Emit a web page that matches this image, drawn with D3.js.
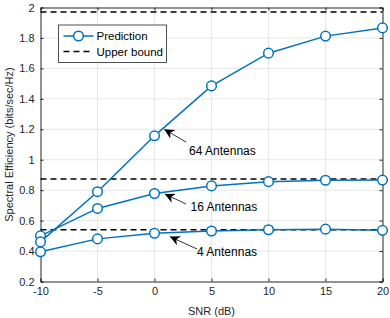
<!DOCTYPE html>
<html>
<head>
<meta charset="utf-8">
<script src="https://cdn.jsdelivr.net/npm/d3@7"></script>
<style>
  body { margin: 0; background: #fff; }
  text { font-family: "Liberation Sans", Arial, sans-serif; }
</style>
</head>
<body>
<svg id="chart" width="390" height="318"></svg>
<script>
// data
const snr = [-10, -5, 0, 5, 10, 15, 20];
const pred64 = [0.46, 0.79, 1.157, 1.485, 1.70, 1.812, 1.866];
const pred16 = [0.50, 0.68, 0.778, 0.828, 0.856, 0.865, 0.866];
const pred4 = [0.395, 0.48, 0.517, 0.532, 0.540, 0.544, 0.536];
const bounds = [1.97, 0.874, 0.540];
const xTicks = [-10, -5, 0, 5, 10, 15, 20];
const yTicks = [0.2, 0.4, 0.6, 0.8, 1, 1.2, 1.4, 1.6, 1.8, 2];
const notes = [
  { label: "64 Antennas", x: 0.85, y: 1.2, tx: 189, ty: 155, dx: -3, dy: -13 },
  { label: "16 Antennas", x: 0.9, y: 0.775, tx: 190.5, ty: 211, dx: -4.5, dy: -7 },
  { label: "4 Antennas", x: 1.35, y: 0.495, tx: 197, ty: 256, dx: 0, dy: -7 }
];

const blue = "#0072bd";
const svg = d3.select("#chart");
const m = { l: 40.5, r: 7.5, t: 7.5, b: 36.5 };
const W = 390, H = 318;

const x = d3.scaleLinear().domain([-10, 20]).range([m.l, W - m.r]);
const y = d3.scaleLinear().domain([0.2, 2]).range([H - m.b, m.t]);

// grid
svg.append("g").selectAll("line").data(xTicks.slice(1, -1)).join("line")
  .attr("x1", d => x(d)).attr("x2", d => x(d))
  .attr("y1", m.t).attr("y2", H - m.b)
  .attr("stroke", "#e6e6e6").attr("stroke-width", 1);
svg.append("g").selectAll("line").data(yTicks.slice(1, -1)).join("line")
  .attr("x1", m.l).attr("x2", W - m.r)
  .attr("y1", d => y(d)).attr("y2", d => y(d))
  .attr("stroke", "#e6e6e6").attr("stroke-width", 1);

// axes
const fmt = d => d3.format("")(+d.toFixed(1));
const xAxis = svg.append("g").attr("transform", `translate(0,${H - m.b})`)
  .call(d3.axisBottom(x).tickValues(xTicks).tickSize(-3).tickPadding(6).tickFormat(d => d));
const xTop = svg.append("g").attr("transform", `translate(0,${m.t})`)
  .call(d3.axisTop(x).tickValues(xTicks).tickSize(-3).tickFormat(""));
const yAxis = svg.append("g").attr("transform", `translate(${m.l},0)`)
  .call(d3.axisLeft(y).tickValues(yTicks).tickSize(-3).tickPadding(6).tickFormat(fmt));
const yRight = svg.append("g").attr("transform", `translate(${W - m.r},0)`)
  .call(d3.axisRight(y).tickValues(yTicks).tickSize(-3).tickFormat(""));

[xAxis, xTop, yAxis, yRight].forEach(g => {
  g.select(".domain").attr("stroke", "#262626");
  g.selectAll(".tick line").attr("stroke", "#262626");
  g.selectAll("text").attr("fill", "#262626").style("font-size", "11px")
    .style("font-family", "'Liberation Sans', Arial, sans-serif");
});

// upper bounds
svg.append("g").selectAll("line").data(bounds).join("line")
  .attr("x1", x(-10)).attr("x2", x(20))
  .attr("y1", d => y(d)).attr("y2", d => y(d))
  .attr("stroke", "#000").attr("stroke-width", 1.5)
  .attr("stroke-dasharray", "6,4");

// prediction curves
const line = d3.line().x((d, i) => x(snr[i])).y(d => y(d));
[pred4, pred16, pred64].forEach(s => {
  svg.append("path").datum(s).attr("d", line)
    .attr("fill", "none").attr("stroke", blue).attr("stroke-width", 1.5);
  svg.append("g").selectAll("circle").data(s).join("circle")
    .attr("cx", (d, i) => x(snr[i])).attr("cy", d => y(d)).attr("r", 4.8)
    .attr("fill", "#fff").attr("stroke", blue).attr("stroke-width", 1.5);
});

// annotations
svg.append("defs").append("marker")
  .attr("id", "ah").attr("viewBox", "0 0 10 10").attr("refX", 10).attr("refY", 5)
  .attr("markerWidth", 10).attr("markerHeight", 10).attr("orient", "auto")
  .attr("markerUnits", "userSpaceOnUse")
  .append("path").attr("d", "M0,0 L10,5 L0,10 L3,5 Z").attr("fill", "#000");
notes.forEach(n => {
  svg.append("line")
    .attr("x1", n.tx + n.dx).attr("y1", n.ty + n.dy)
    .attr("x2", x(n.x)).attr("y2", y(n.y))
    .attr("stroke", "#000").attr("stroke-width", 0.8)
    .attr("marker-end", "url(#ah)");
  svg.append("text").attr("x", n.tx).attr("y", n.ty)
    .style("font-size", "12px").attr("fill", "#000").text(n.label);
});

// legend
const lg = svg.append("g").attr("transform", "translate(58.5,25)");
lg.append("rect").attr("width", 108).attr("height", 37.5)
  .attr("fill", "#fff").attr("stroke", "#262626").attr("stroke-width", 0.8);
lg.append("line").attr("x1", 5).attr("x2", 35).attr("y1", 11).attr("y2", 11)
  .attr("stroke", blue).attr("stroke-width", 1.5);
lg.append("circle").attr("cx", 20).attr("cy", 11).attr("r", 4.8)
  .attr("fill", "#fff").attr("stroke", blue).attr("stroke-width", 1.5);
lg.append("line").attr("x1", 5).attr("x2", 35).attr("y1", 26.5).attr("y2", 26.5)
  .attr("stroke", "#000").attr("stroke-width", 1.5).attr("stroke-dasharray", "6,4");
lg.append("text").attr("x", 38).attr("y", 15).style("font-size", "11.5px").text("Prediction");
lg.append("text").attr("x", 38).attr("y", 30.5).style("font-size", "11.5px").text("Upper bound");

// axis labels
svg.append("text").attr("x", x(5)).attr("y", 315).attr("text-anchor", "middle")
  .style("font-size", "11px").attr("fill", "#262626").text("SNR (dB)");
svg.append("text").attr("transform", `translate(13,${(m.t + H - m.b) / 2}) rotate(-90)`)
  .attr("text-anchor", "middle").style("font-size", "11px").attr("fill", "#262626")
  .text("Spectral Efficiency (bits/sec/Hz)");
</script>
</body>
</html>
